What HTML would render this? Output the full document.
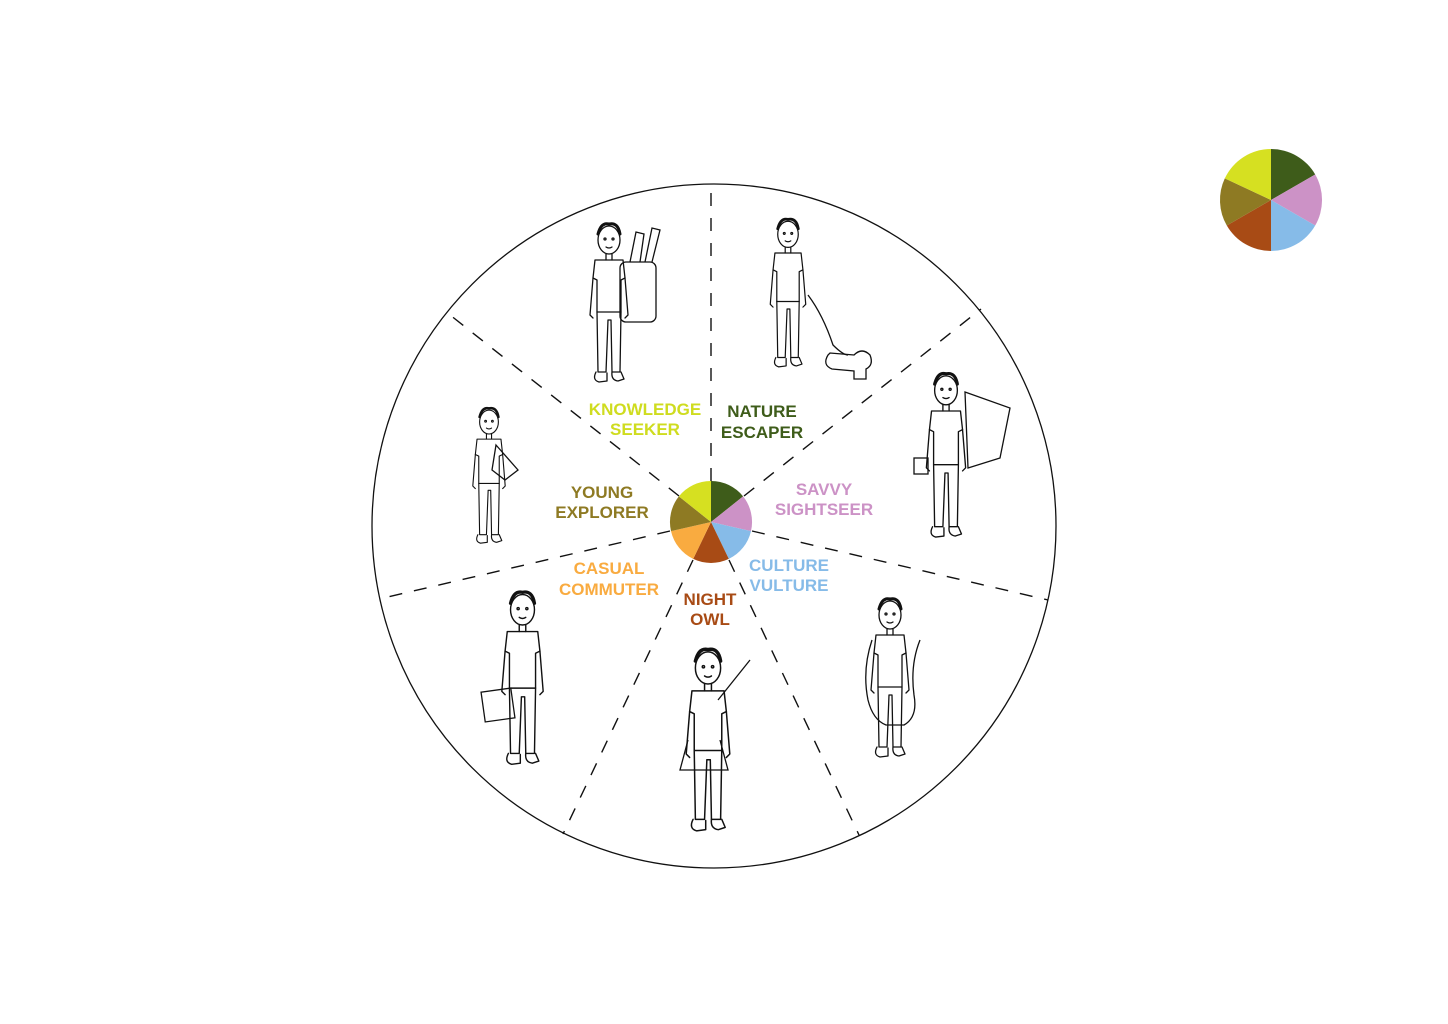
<!DOCTYPE html>
<html><head><meta charset="utf-8"><style>
html,body{margin:0;padding:0;background:#fff;}
svg{display:block}
text{font-family:"Liberation Sans",Arial,sans-serif;font-weight:bold;font-size:17px;text-anchor:middle}
</style></head><body>
<svg width="1448" height="1024" viewBox="0 0 1448 1024" xmlns="http://www.w3.org/2000/svg">
<defs>
<symbol id="fig" viewBox="0 0 60 170">
<g fill="none" stroke="#111" stroke-width="1.3" stroke-linejoin="round" stroke-linecap="round">
<ellipse cx="30" cy="20" rx="11" ry="14"/>
<path d="M19 14 q3 -12 11 -10 q9 -2 11 10" stroke-width="3"/>
<path d="M27 34 L27 40 M33 34 L33 40"/>
<path d="M16 40 L44 40 L46 58 L42 60 L42 92 L18 92 L18 60 L14 58 Z"/>
<path d="M14 58 L11 95 L14 98 M46 58 L49 95 L46 98"/>
<path d="M18 92 L19 152 L27 152 L29 100 L32 100 L33 152 L41 152 L42 92"/>
<path d="M17 152 q-4 8 3 10 l8 -1 l0 -8 M33 152 q-1 8 6 9 l6 -2 l-3 -7"/>
<circle cx="26" cy="19" r="1"/><circle cx="34" cy="19" r="1"/><path d="M27 27 q3 2 6 0"/>
</g>
</symbol>
</defs>

<!-- big circle -->
<circle cx="714" cy="526" r="342" fill="none" stroke="#111" stroke-width="1.3"/>

<!-- dashed spokes -->
<g stroke="#111" stroke-width="1.4" stroke-dasharray="13,12" fill="none">
<line x1="711" y1="481" x2="711" y2="184"/>
<line x1="744" y1="496" x2="981" y2="309"/>
<line x1="752" y1="531" x2="1048" y2="600"/>
<line x1="729" y1="560" x2="859" y2="835"/>
<line x1="693" y1="560" x2="563" y2="834"/>
<line x1="670" y1="531" x2="379" y2="599"/>
<line x1="679" y1="496" x2="445" y2="311"/>
</g>

<!-- center pie -->
<g transform="translate(0,0)">
<path d="M711 522 L711 481 A41 41 0 0 1 743.1 496.4 Z" fill="#3e5c1a"/>
<path d="M711 522 L743.1 496.4 A41 41 0 0 1 751 531.1 Z" fill="#cc92c6"/>
<path d="M711 522 L751 531.1 A41 41 0 0 1 728.8 558.9 Z" fill="#86bbe8"/>
<path d="M711 522 L728.8 558.9 A41 41 0 0 1 693.2 558.9 Z" fill="#a84b15"/>
<path d="M711 522 L693.2 558.9 A41 41 0 0 1 671 531.1 Z" fill="#f9ab40"/>
<path d="M711 522 L671 531.1 A41 41 0 0 1 678.9 496.4 Z" fill="#8e7a23"/>
<path d="M711 522 L678.9 496.4 A41 41 0 0 1 711 481 Z" fill="#d6e021"/>
</g>

<!-- top right pie -->
<path d="M1271 200 L1271 149 A51 51 0 0 1 1315.2 174.5 Z" fill="#3e5c1a"/>
<path d="M1271 200 L1315.2 174.5 A51 51 0 0 1 1315.2 225.5 Z" fill="#cc92c6"/>
<path d="M1271 200 L1315.2 225.5 A51 51 0 0 1 1271 251 Z" fill="#86bbe8"/>
<path d="M1271 200 L1271 251 A51 51 0 0 1 1226.8 225.5 Z" fill="#a84b15"/>
<path d="M1271 200 L1226.8 225.5 A51 51 0 0 1 1224.8 178.4 Z" fill="#8e7a23"/>
<path d="M1271 200 L1224.8 178.4 A51 51 0 0 1 1271 149 Z" fill="#d6e021"/>

<!-- labels -->
<text x="645" y="415" fill="#cfdc1f">KNOWLEDGE</text>
<text x="645" y="435" fill="#cfdc1f">SEEKER</text>
<text x="762" y="417" fill="#3e5c1a">NATURE</text>
<text x="762" y="438" fill="#3e5c1a">ESCAPER</text>
<text x="824" y="495" fill="#cc92c6">SAVVY</text>
<text x="824" y="515" fill="#cc92c6">SIGHTSEER</text>
<text x="789" y="571" fill="#86bbe8">CULTURE</text>
<text x="789" y="591" fill="#86bbe8">VULTURE</text>
<text x="710" y="605" fill="#a84b15">NIGHT</text>
<text x="710" y="625" fill="#a84b15">OWL</text>
<text x="609" y="574" fill="#f9ab40">CASUAL</text>
<text x="609" y="595" fill="#f9ab40">COMMUTER</text>
<text x="602" y="498" fill="#8e7a23">YOUNG</text>
<text x="602" y="518" fill="#8e7a23">EXPLORER</text>

<!-- figures -->
<g fill="none" stroke="#111" stroke-width="1.3">
<!-- knowledge seeker -->
<rect x="620" y="262" width="36" height="60" rx="6"/>
<path d="M630 262 L636 232 L644 234 L640 262 M645 262 L652 228 L660 230 L652 262"/>
<use href="#fig" x="578" y="220" width="62" height="170"/>
<!-- nature escaper -->
<use href="#fig" x="760" y="210" width="56" height="170"/>
<path d="M808 295 q15 20 25 50 q10 10 15 10"/>
<path d="M828 355 q-6 10 4 14 l22 2 l0 8 l12 0 l0 -10 q8 -4 4 -14 q-8 -8 -16 0 l-24 -2 z"/>
<!-- savvy sightseer -->
<path d="M965 392 L1010 408 L1000 458 L968 468 Z"/>
<use href="#fig" x="915" y="360" width="62" height="195"/>
<rect x="914" y="458" width="14" height="16"/>
<!-- culture vulture -->
<path d="M872 640 q-10 30 -4 60 q5 20 18 25 l18 0 q14 -8 10 -30 q-4 -30 6 -55"/>
<use href="#fig" x="860" y="580" width="60" height="200"/>
<!-- night owl -->
<path d="M718 700 L750 660"/>
<path d="M688 740 L680 770 L728 770 L720 740"/>
<use href="#fig" x="668" y="645" width="80" height="195"/>
<!-- casual commuter -->
<use href="#fig" x="485" y="588" width="75" height="185"/>
<rect x="483" y="690" width="30" height="30" transform="rotate(-8 498 705)"/>
<!-- young explorer -->
<path d="M496 445 L518 470 L505 480 L492 470 Z"/>
<use href="#fig" x="458" y="405" width="62" height="145"/>
</g>
</svg>
</body></html>
